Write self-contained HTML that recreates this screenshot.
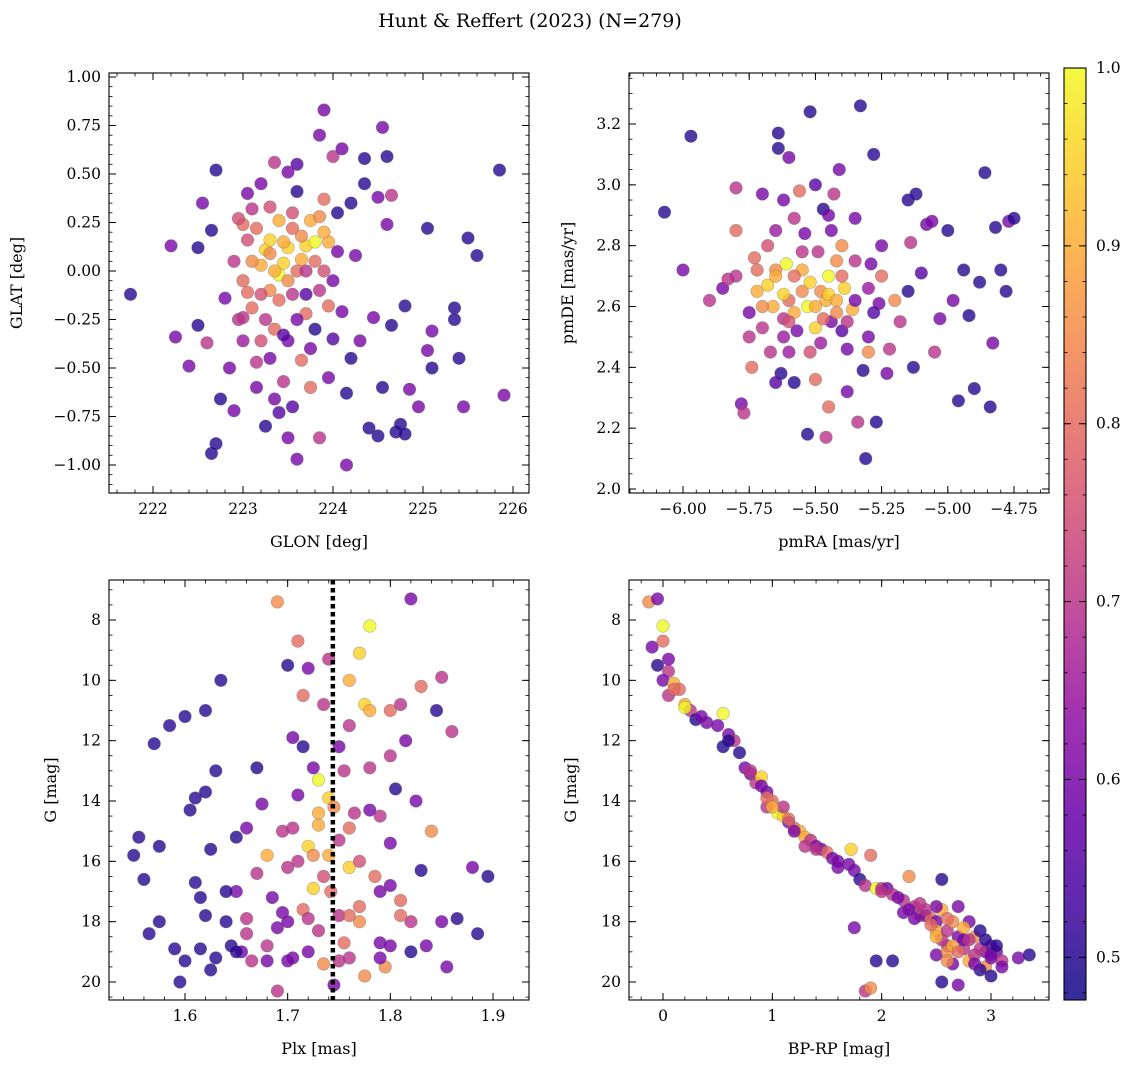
<!DOCTYPE html>
<html><head><meta charset="utf-8"><style>
html,body{margin:0;padding:0;background:#fff}
svg{display:block;font-family:"DejaVu Serif","Liberation Serif",serif}
</style></head><body>
<svg id="fig" width="1136" height="1068" viewBox="0 0 1136 1068">
<text x="530" y="27" text-anchor="middle" font-size="19" fill="#000">Hunt &amp; Reffert (2023) (N=279)</text>
</svg>
<script>
// ---- Panel 1: GLON vs GLAT ----
const glon=[221.75,222.2,222.25,222.4,222.5,222.5,222.55,222.6,222.65,222.7,222.65,222.7,222.75,222.8,222.85,222.9,222.95,223.0,223.0,223.05,223.1,223.1,223.15,223.2,223.2,223.25,223.3,223.3,223.35,223.35,223.35,223.4,223.4,223.45,223.45,223.5,223.5,223.5,223.5,223.55,223.55,223.6,223.6,223.65,223.65,223.7,223.7,223.75,223.75,223.8,223.8,223.85,223.85,223.9,223.9,223.95,223.95,224.0,224.0,224.05,224.1,224.1,224.15,224.15,224.2,224.25,224.3,224.35,224.35,224.4,224.45,224.5,224.5,224.55,224.55,224.6,224.6,224.65,224.65,224.7,224.75,224.8,224.8,224.85,224.95,225.05,225.05,225.1,225.1,225.35,225.35,225.4,225.45,225.5,225.6,225.85,225.9,223.0,223.2,223.3,223.6,223.9,223.05,223.55,223.25,223.45,223.7,
223.1,223.15,223.2,223.25,223.3,223.35,223.4,223.45,223.5,223.55,223.6,223.65,223.7,223.75,223.8,223.85,223.9,224.0,224.05,223.15,223.3,223.0,222.9,223.05,223.6,223.95,223.4,224.2,222.95,223.85];
const glat=[-0.12,0.13,-0.34,-0.49,0.12,-0.28,0.35,-0.37,0.21,0.52,-0.94,-0.89,-0.66,-0.14,-0.5,-0.72,-0.25,-0.05,0.24,0.16,0.32,-0.19,-0.47,0.03,0.45,0.11,-0.1,0.16,0.56,-0.66,-0.3,0.26,-0.02,0.04,-0.57,0.12,-0.36,0.51,-0.86,0.22,-0.12,-0.97,0.41,-0.46,0.06,0.13,-0.22,0.26,-0.6,0.15,-0.3,0.7,-0.86,0.83,0.37,0.15,-0.18,-0.05,0.59,0.3,0.63,-0.21,-1.0,-0.63,0.35,0.08,-0.36,0.58,0.45,-0.81,-0.24,0.38,-0.85,0.74,-0.6,0.24,0.59,-0.28,0.39,-0.83,-0.79,-0.18,-0.84,-0.61,-0.7,0.22,-0.41,-0.31,-0.5,-0.19,-0.25,-0.45,-0.7,0.17,0.08,0.52,-0.64,-0.24,-0.36,0.09,0.0,0.0,-0.11,-0.7,-0.8,-0.33,-0.12,
0.05,0.22,-0.12,-0.25,0.33,0.0,-0.15,0.15,-0.05,0.3,-0.25,0.18,0.0,-0.4,0.05,-0.1,0.2,-0.35,0.1,-0.6,-0.45,-0.36,0.05,0.4,0.55,-0.55,-0.73,-0.45,0.27,0.28];
const prob1=[.5,.6,.6,.6,.5,.5,.6,.7,.5,.5,.5,.5,.5,.6,.6,.6,.7,.8,.8,.75,.7,.8,.7,.9,.6,.95,.85,.95,.7,.6,.8,.9,1.0,.95,.7,.95,.6,.6,.6,.8,.7,.6,.5,.8,.9,.95,.8,.9,.8,1.0,.5,.6,.7,.6,.8,.9,.8,.6,.7,.5,.6,.6,.6,.5,.5,.6,.6,.5,.5,.5,.6,.6,.5,.6,.5,.6,.5,.5,.7,.5,.5,.5,.5,.6,.6,.5,.6,.6,.5,.5,.5,.5,.6,.5,.5,.5,.6,.7,.75,.85,.8,.75,.8,.55,.5,.55,.55,
.85,.8,.75,.7,.75,.9,.8,.9,.85,.75,.6,.85,.7,.6,.8,.7,.9,.55,.6,.6,.6,.65,.7,.6,.55,.6,.55,.5,.75,.85];
// ---- Panel 2: pmRA vs pmDE ----
const pmra=[-6.07,-6.0,-5.97,-5.9,-5.85,-5.83,-5.8,-5.8,-5.78,-5.77,-5.75,-5.74,-5.73,-5.72,-5.7,-5.7,-5.68,-5.67,-5.66,-5.65,-5.64,-5.64,-5.63,-5.62,-5.61,-5.6,-5.6,-5.58,-5.58,-5.57,-5.56,-5.55,-5.54,-5.53,-5.53,-5.52,-5.5,-5.5,-5.49,-5.48,-5.47,-5.46,-5.45,-5.45,-5.44,-5.43,-5.42,-5.41,-5.4,-5.39,-5.38,-5.36,-5.35,-5.34,-5.33,-5.32,-5.31,-5.3,-5.29,-5.28,-5.27,-5.26,-5.25,-5.23,-5.22,-5.2,-5.18,-5.15,-5.14,-5.13,-5.12,-5.1,-5.08,-5.06,-5.05,-5.03,-5.0,-4.98,-4.96,-4.94,-4.92,-4.9,-4.88,-4.86,-4.84,-4.83,-4.82,-4.8,-4.78,-4.77,-4.75,-5.62,-5.52,-5.4,-5.68,-5.58,-5.46,-5.35,-5.44,-5.65,-5.3,
-5.7,-5.65,-5.62,-5.58,-5.55,-5.52,-5.5,-5.47,-5.45,-5.42,-5.4,-5.38,-5.6,-5.72,-5.75,-5.48,-5.35,-5.55,-5.65,-5.45,-5.3,-5.28,-5.8,-5.6,-5.42,-5.25,-5.15,-5.5,-5.62,-5.38];
const pmde=[2.91,2.72,3.16,2.62,2.66,2.69,2.99,2.85,2.28,2.25,2.58,2.4,2.76,2.65,2.97,2.53,2.67,2.45,2.6,2.72,3.12,3.17,2.38,2.56,2.74,2.62,3.09,2.89,2.35,2.52,2.98,2.72,2.84,2.6,2.18,3.24,2.53,2.36,2.78,2.65,2.92,2.17,2.7,2.27,2.55,2.97,2.58,3.05,2.8,2.66,2.46,2.59,2.89,2.22,3.26,2.39,2.1,2.45,2.74,3.1,2.22,2.61,2.7,2.38,2.46,2.62,2.55,2.95,2.81,2.4,2.97,2.71,2.87,2.88,2.45,2.56,2.85,2.62,2.29,2.72,2.57,2.33,2.68,3.04,2.27,2.48,2.86,2.72,2.65,2.88,2.89,2.5,2.45,2.52,2.8,2.7,2.62,2.75,2.85,2.35,2.66,
2.6,2.7,2.64,2.58,2.65,2.68,2.6,2.56,2.64,2.62,2.7,2.55,2.55,2.72,2.5,2.48,2.62,2.78,2.85,2.9,2.5,2.58,2.7,2.45,2.75,2.8,2.65,3.0,2.95,2.32];
const prob2=[.5,.6,.5,.7,.6,.7,.7,.8,.6,.7,.6,.8,.8,.9,.6,.7,.95,.7,.9,.85,.5,.5,.5,.7,1.0,.8,.6,.7,.5,.6,.8,.9,.6,1.0,.5,.5,.95,.8,.7,.85,.5,.7,1.0,.8,.6,.7,.85,.6,.85,.95,.6,.9,.6,.7,.5,.5,.5,.85,.6,.5,.5,.6,.8,.6,.7,.85,.7,.5,.7,.5,.5,.55,.6,.6,.7,.6,.5,.6,.5,.5,.5,.5,.5,.5,.5,.6,.5,.5,.5,.6,.5,.65,.75,.55,.75,.8,.9,.7,.6,.55,.65,
.85,.9,.95,.9,.85,.95,.9,.8,.95,.9,.8,.7,.75,.8,.7,.65,.6,.7,.65,.6,.6,.55,.7,.65,.85,.6,.5,.55,.6,.6];
// ---- Panel 3: Plx vs G ----
const plx=[1.55,1.555,1.56,1.565,1.57,1.575,1.575,1.585,1.59,1.595,1.6,1.6,1.605,1.61,1.61,1.615,1.615,1.62,1.62,1.625,1.625,1.63,1.63,1.635,1.64,1.645,1.65,1.65,1.655,1.66,1.66,1.665,1.67,1.67,1.675,1.68,1.68,1.685,1.69,1.69,1.695,1.695,1.70,1.70,1.705,1.705,1.71,1.71,1.715,1.715,1.72,1.72,1.725,1.725,1.73,1.73,1.73,1.735,1.735,1.74,1.74,1.742,1.745,1.75,1.75,1.755,1.755,1.76,1.76,1.765,1.77,1.77,1.775,1.775,1.78,1.78,1.785,1.79,1.79,1.795,1.8,1.8,1.805,1.81,1.81,1.815,1.82,1.82,1.825,1.83,1.83,1.835,1.84,1.845,1.85,1.85,1.855,1.86,1.865,1.88,1.885,1.895,1.72,1.76,1.79,1.70,1.77,
1.73,1.74,1.745,1.75,1.72,1.76,1.71,1.78,1.69,1.8,1.82,1.75,1.7,1.68,1.76,1.77,1.725,1.79,1.8,1.66,1.65,1.64,1.62,1.705,1.76,1.78,1.715,1.8,1.81,1.735];
const gmag3=[15.8,15.2,16.6,18.4,12.1,15.5,18.0,11.5,18.9,20.0,11.2,19.3,14.3,13.9,16.7,17.2,18.9,13.7,11.0,15.6,19.6,13.0,19.2,10.0,18.0,18.8,15.2,17.0,19.0,14.9,18.4,19.3,16.4,12.9,14.1,15.8,18.8,17.2,7.4,20.3,15.0,17.7,9.5,16.2,11.9,19.2,8.7,13.8,10.5,17.6,9.6,15.5,16.9,12.9,13.3,14.4,18.3,10.8,19.4,9.3,13.9,17.0,20.1,15.3,12.2,18.7,13.0,16.2,10.0,14.4,9.1,17.5,10.8,19.8,8.2,12.9,16.5,14.5,18.7,19.5,11.0,15.4,13.6,10.8,17.3,12.0,7.3,19.0,14.0,10.2,16.3,18.8,15.0,11.0,9.9,18.0,19.5,11.7,17.9,16.2,18.4,16.5,19.0,19.2,19.2,18.0,18.0,
14.8,15.8,14.2,17.8,17.9,17.8,16.0,14.3,18.2,18.8,18.0,19.3,19.3,19.3,14.9,16.0,15.8,17.0,16.8,17.9,19.0,17.0,17.8,14.9,11.5,11.0,12.2,12.5,17.8,16.5];
const prob3=[.5,.5,.5,.5,.5,.5,.5,.5,.5,.5,.5,.5,.5,.5,.5,.5,.5,.5,.5,.5,.5,.5,.5,.5,.5,.5,.5,.6,.6,.6,.7,.7,.7,.5,.6,.9,.7,.6,.85,.7,.7,.6,.5,.7,.6,.6,.8,.6,.8,.8,.6,.95,.95,.6,1.0,.9,.7,.7,.85,.7,.95,.8,.6,.7,.6,.8,.7,.95,.9,.7,.95,.8,.95,.85,1.0,.7,.8,.7,.6,.85,.8,.6,.5,.7,.8,.6,.6,.5,.6,.8,.5,.6,.85,.5,.7,.6,.6,.7,.5,.6,.5,.5,.6,.7,.6,.6,.85,
.9,.9,.85,.7,.7,.8,.7,.6,.6,.6,.7,.7,.6,.6,.8,.75,.85,.6,.6,.7,.5,.5,.5,.7,.7,.9,.5,.7,.8,.75];
const plxRef=[1.744];
// ---- Panel 4: BP-RP vs G ----
const bprp=[-0.13,-0.05,-0.1,0.0,0.0,-0.05,0.05,0.0,0.05,0.1,0.15,0.2,0.25,0.2,0.3,0.4,0.5,0.55,0.6,0.55,0.65,0.7,0.75,0.8,0.85,0.9,0.95,0.95,1.0,1.05,1.1,1.1,1.15,1.2,1.25,1.3,1.35,1.4,1.45,1.5,1.55,1.6,1.7,1.72,1.75,1.8,1.75,1.85,1.9,1.95,2.0,2.05,2.1,2.2,2.25,2.3,2.35,2.4,2.45,2.5,2.5,2.55,2.55,2.6,2.65,2.7,2.7,2.75,2.8,2.8,2.85,2.9,2.95,2.95,3.0,3.0,3.05,3.1,3.25,3.35,2.5,2.55,2.65,2.7,2.9,1.95,2.1,1.85,1.9,2.6,2.3,2.75,2.5,2.85,0.05,0.95,1.3,2.2,2.6,3.0,
2.4,2.45,2.55,2.6,2.65,2.7,2.75,2.8,2.85,2.9,2.95,3.0,3.05,3.1,2.6,2.5,2.35,2.15,1.6,1.4,1.2,1.0,0.8,0.6,0.35,0.1,0.9,1.15,2.0,2.25];
const gmag4=[7.4,7.3,8.9,8.2,8.7,9.5,9.7,10.0,10.5,10.1,10.3,10.8,11.0,10.9,11.3,11.4,11.5,11.1,11.8,12.2,12.0,12.4,12.9,13.1,13.4,13.2,13.7,14.2,14.0,14.4,14.5,14.2,14.7,14.9,15.0,15.2,15.3,15.5,15.6,15.7,15.9,16.0,16.1,15.6,16.3,16.6,18.2,16.8,15.8,16.9,16.9,16.9,17.1,17.3,16.5,17.5,17.8,17.8,17.9,18.0,18.3,16.6,17.6,18.3,18.0,18.5,17.5,18.9,18.0,19.3,18.5,18.3,19.0,19.5,18.8,19.8,19.0,19.3,19.2,19.1,19.1,20.0,19.4,20.1,19.6,19.3,19.3,20.3,20.2,18.8,17.9,18.2,17.5,19.1,9.3,13.9,15.5,17.7,19.0,19.2,
17.6,18.1,18.6,17.9,18.8,19.0,18.6,18.6,19.4,18.9,18.6,19.1,18.8,19.5,19.3,18.5,17.4,17.2,16.2,15.6,15.0,14.2,13.0,12.0,11.2,10.3,13.5,14.6,17.0,17.6];
const prob4=[.85,.6,.6,1.0,.8,.5,.7,.6,.7,.9,.8,.9,.7,1.0,.5,.6,.6,1.0,.6,.5,.7,.5,.6,.6,.7,.95,.6,.7,.8,1.0,.95,.7,.6,.8,.9,.9,.7,.6,.6,.8,.6,.6,.6,.95,.6,.5,.6,.7,.8,1.0,.7,.6,.7,.7,.85,.7,.7,.6,.8,.6,.9,.5,.9,.7,.85,.6,.6,.7,.6,.9,.85,.5,.6,.85,.6,.5,.6,.7,.6,.5,.6,.5,.6,.6,.5,.5,.5,.7,.85,.7,.6,.9,.6,.7,.6,.8,.7,.6,.85,.6,
.7,.8,.7,.8,.9,.8,.6,.7,.6,.7,.5,.6,.5,.6,.85,.9,.7,.6,.6,.7,.6,.9,.7,.5,.6,.8,.6,.8,.7,.6];
// tick labels
const ticks1x=[222,223,224,225,226];
const ticks1y=[-1.0,-0.75,-0.5,-0.25,0.0,0.25,0.5,0.75,1.0];
const ticks2x=[-6.0,-5.75,-5.5,-5.25,-5.0,-4.75];
const ticks2y=[2.0,2.2,2.4,2.6,2.8,3.0,3.2];
const ticks3x=[1.6,1.7,1.8,1.9];
const ticksG=[8,10,12,14,16,18,20];
const ticks4x=[0,1,2,3];
const ticksCb=[0.5,0.6,0.7,0.8,0.9,1.0];
const cbRange=[0.476,1.0];

const NS='http://www.w3.org/2000/svg';
const svg=document.getElementById('fig');
function mk(tag,attrs,parent){const e=document.createElementNS(NS,tag);for(const k in attrs)e.setAttribute(k,attrs[k]);(parent||svg).appendChild(e);return e;}
const stops=[[0,[13,8,135]],[.1,[65,4,157]],[.2,[106,0,168]],[.3,[143,13,164]],[.4,[177,42,144]],[.5,[204,71,120]],[.6,[225,100,98]],[.7,[242,132,75]],[.8,[252,166,54]],[.9,[252,206,37]],[1,[240,249,33]]];
function plasma(t){t=Math.max(0,Math.min(1,t));for(let i=1;i<stops.length;i++){if(t<=stops[i][0]){const a=stops[i-1],b=stops[i],f=(t-a[0])/(b[0]-a[0]);return 'rgb('+a[1].map((c,j)=>Math.round(c+(b[1][j]-c)*f)).join(',')+')';}}return 'rgb(240,249,33)';}
function cnorm(p){return (p-cbRange[0])/(cbRange[1]-cbRange[0]);}
function lin(v0,p0,v1,p1){const k=(p1-p0)/(v1-v0);const f=v=>p0+(v-v0)*k;f.inv=p=>v0+(p-p0)/k;return f;}
function fmt(v,d){const s=v.toFixed(d);return v<0?'\u2212'+s.slice(1):s;}

function panel(o){
  const g=mk('g',{});
  
  
  const {x0,x1,y0,y1}=o.box;
  const pg=mk('g',{},g);
  
  
  const n=Math.min(o.xs.length,o.ys.length,o.cs.length);
  for(let i=0;i<n;i++){
    const c=mk('circle',{cx:o.sx(o.xs[i]).toFixed(1),cy:o.sy(o.ys[i]).toFixed(1),r:6.3,fill:plasma(cnorm(o.cs[i])),'fill-opacity':0.8,stroke:'rgba(90,90,90,0.45)','stroke-width':0.6},pg);
    
    
  }
  if(o.extra)o.extra(g);
  const fr=mk('rect',{x:x0,y:y0,width:x1-x0,height:y1-y0,fill:'none',stroke:'#000','stroke-width':1.1},g);
  
  
  const lo=o.sx.inv(x0),hi=o.sx.inv(x1);
  const xa=Math.min(lo,hi),xb=Math.max(lo,hi);
  for(let v=Math.ceil(xa/o.xminor-1e-6)*o.xminor;v<=xb+1e-9;v+=o.xminor){const x=o.sx(v);mk('line',{x1:x,x2:x,y1:y1,y2:y1-3.5,stroke:'#000','stroke-width':0.8},g);mk('line',{x1:x,x2:x,y1:y0,y2:y0+3.5,stroke:'#000','stroke-width':0.8},g);}
  o.xt.forEach(v=>{const x=o.sx(v);mk('line',{x1:x,x2:x,y1:y1,y2:y1-7,stroke:'#000','stroke-width':1},g);mk('line',{x1:x,x2:x,y1:y0,y2:y0+7,stroke:'#000','stroke-width':1},g);
    const t=mk('text',{x:x,y:y1+21,'text-anchor':'middle','font-size':15.5},g);t.textContent=fmt(v,o.xd);
    
    });
  const ylo=o.sy.inv(y1),yhi=o.sy.inv(y0);
  const ya=Math.min(ylo,yhi),yb=Math.max(ylo,yhi);
  for(let v=Math.ceil(ya/o.yminor-1e-6)*o.yminor;v<=yb+1e-9;v+=o.yminor){const y=o.sy(v);mk('line',{x1:x0,x2:x0+3.5,y1:y,y2:y,stroke:'#000','stroke-width':0.8},g);mk('line',{x1:x1,x2:x1-3.5,y1:y,y2:y,stroke:'#000','stroke-width':0.8},g);}
  o.yt.forEach(v=>{const y=o.sy(v);mk('line',{x1:x0,x2:x0+7,y1:y,y2:y,stroke:'#000','stroke-width':1},g);mk('line',{x1:x1,x2:x1-7,y1:y,y2:y,stroke:'#000','stroke-width':1},g);
    const t=mk('text',{x:x0-8,y:y+5,'text-anchor':'end','font-size':15.5},g);t.textContent=fmt(v,o.yd);
    
    });
  const xt=mk('text',{x:(x0+x1)/2,y:y1+54,'text-anchor':'middle','font-size':16},g);xt.textContent=o.xlabel;
  
  
  const yt=mk('text',{x:o.ylx,y:(y0+y1)/2,'text-anchor':'middle','font-size':16,transform:`rotate(-90 ${o.ylx} ${(y0+y1)/2})`},g);yt.textContent=o.ylabel;
  
  
}
const sG=lin(8,620,20,982);
panel({name:'panel-glon-glat',box:{x0:109,x1:529,y0:73,y1:493},xs:glon,ys:glat,cs:prob1,sx:lin(222,153,226,513),sy:lin(1,77,-1,465),xt:ticks1x,yt:ticks1y,xminor:0.2,yminor:0.05,xd:0,yd:2,xlabel:'GLON [deg]',ylabel:'GLAT [deg]',ylx:22});
panel({name:'panel-pm',box:{x0:629,x1:1049,y0:73,y1:493},xs:pmra,ys:pmde,cs:prob2,sx:lin(-6,683,-4.75,1014),sy:lin(3.2,124,2.0,489),xt:ticks2x,yt:ticks2y,xminor:0.05,yminor:0.05,xd:2,yd:1,xlabel:'pmRA [mas/yr]',ylabel:'pmDE [mas/yr]',ylx:573});
const sPlx=lin(1.6,185,1.9,493);
panel({name:'panel-plx-g',box:{x0:109,x1:529,y0:580,y1:1000},xs:plx,ys:gmag3,cs:prob3,sx:sPlx,sy:sG,xt:ticks3x,yt:ticksG,xminor:0.02,yminor:0.5,xd:1,yd:0,xlabel:'Plx [mas]',ylabel:'G [mag]',ylx:56,
  extra:g=>{plxRef.forEach(v=>{const l=mk('line',{x1:sPlx(v),x2:sPlx(v),y1:580,y2:1000,stroke:'#000','stroke-width':4.5,'stroke-dasharray':'4.5 3.5'},g);
    
    });}});
panel({name:'panel-cmd',box:{x0:629,x1:1049,y0:580,y1:1000},xs:bprp,ys:gmag4,cs:prob4,sx:lin(0,663,3,991),sy:sG,xt:ticks4x,yt:ticksG,xminor:0.2,yminor:0.5,xd:0,yd:0,xlabel:'BP-RP [mag]',ylabel:'G [mag]',ylx:576});
(function(){
  const cx0=1064,cx1=1086,cy0=68,cy1=1000;
  const defs=mk('defs',{});
  const lg=mk('linearGradient',{id:'cbg',x1:0,y1:1,x2:0,y2:0},defs);
  for(let i=0;i<=20;i++){mk('stop',{offset:i/20,'stop-color':plasma(i/20)},lg);}
  const cb=mk('g',{});
  
  
  mk('rect',{x:cx0,y:cy0,width:cx1-cx0,height:cy1-cy0,fill:'url(#cbg)','fill-opacity':0.85,stroke:'#000','stroke-width':1.1},cb);
  const sc=lin(cbRange[0],cy1,cbRange[1],cy0);
  for(let v=0.48;v<=1.0001;v+=0.02){const y=sc(v);mk('line',{x1:cx1,x2:cx1-3.5,y1:y,y2:y,stroke:'#000','stroke-width':0.8},cb);mk('line',{x1:cx0,x2:cx0+3.5,y1:y,y2:y,stroke:'#000','stroke-width':0.8},cb);}
  ticksCb.forEach(v=>{const y=sc(v);mk('line',{x1:cx1,x2:cx1-7,y1:y,y2:y,stroke:'#000','stroke-width':1},cb);mk('line',{x1:cx0,x2:cx0+7,y1:y,y2:y,stroke:'#000','stroke-width':1},cb);
    const t=mk('text',{x:cx1+10,y:y+5,'font-size':15.5},cb);t.textContent=v.toFixed(1);
    
    });
})();
</script>
</body></html>
